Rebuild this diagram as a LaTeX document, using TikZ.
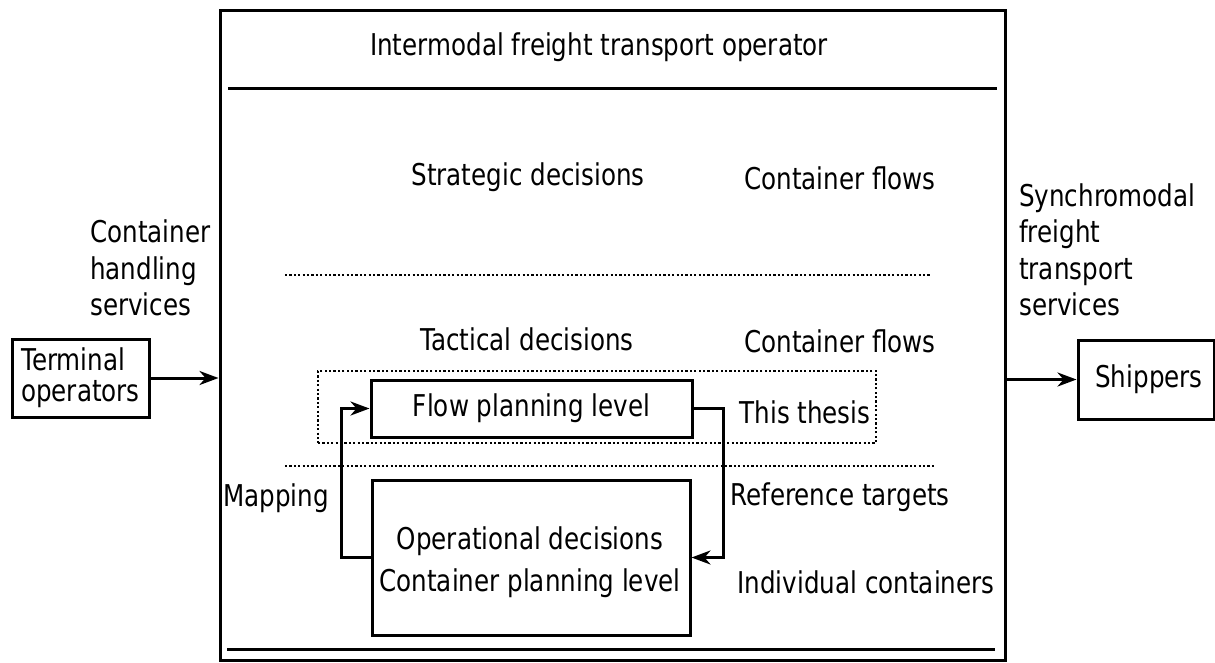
\documentclass[tikz,border=0pt]{standalone}
\usepackage{fontspec}
\setmainfont{DejaVu Sans}[FakeStretch=0.82]
\usetikzlibrary{arrows.meta}
\begin{document}
\begin{tikzpicture}[x=1pt,y=-1pt,
  every node/.style={font=\fontsize{30}{36.5}\selectfont},
  lbl/.style={inner sep=0pt},
  box/.style={draw,line width=3pt,inner sep=0pt},
  conn/.style={line width=3pt,-{Stealth[length=19pt,width=14pt,inset=6pt]}},
  dotline/.style={line width=2.6pt,dash pattern=on 2.2pt off 2.2pt}]
\useasboundingbox (0,0) rectangle (1215,662);
% main operator box
\node[box,minimum width=785pt,minimum height=650pt] (main) at (612.5,335) {};
\draw[line width=3pt] (228,88) -- (997,88);
\draw[line width=3pt] (227,649) -- (995,649);
\node[lbl] (title) at (599,47) {Intermodal freight transport operator};
\node[lbl] (strat) at (528,177) {Strategic decisions};
\node[lbl] (cf1) at (840,178) {Container flows};
\draw[dotline] (285,275) -- (930,275);
\node[lbl] (tact) at (527,339) {Tactical decisions};
\node[lbl] (cf2) at (840,341) {Container flows};
% this thesis region
\node[draw,dotline,minimum width=558pt,minimum height=72pt,inner sep=0pt] (thesis) at (597,407) {};
\node[box,minimum width=321pt,minimum height=57pt] (flow) at (531.5,408.5) {Flow planning level};
\node[lbl] (tt) at (805,412) {This thesis};
\draw[dotline] (285,466) -- (935,466);
\node[box,minimum width=318pt,minimum height=155pt] (ops) at (531,557.5) {};
\node[lbl,align=center] (opstext) at (530,562) {Operational decisions\\[5pt]Container planning level};
\node[lbl] (map) at (276,498) {Mapping};
\node[lbl] (ref) at (840,497) {Reference targets};
\node[lbl] (ind) at (866,582) {Individual containers};
\draw[conn] (ops.west) -- ++(-29,0) |- (flow.west);
\draw[conn] (flow.east) -- ++(30,0) |- (ops.east);
% left side
\node[box,minimum width=137pt,minimum height=78pt,align=left,
      font=\fontsize{30}{31}\selectfont] (term) at (80.5,378) {Terminal\\operators};
\node[lbl,anchor=west,align=left] (chs) at (90,268) {Container\\handling\\services};
\draw[conn] (term.east) -- (main.west |- term.east);
% right side
\node[box,minimum width=136pt,minimum height=79pt] (ship) at (1146,379.5) {};
\node[lbl] (shiptext) at (1149,379) {Shippers};
\node[lbl,anchor=west,align=left] (sfts) at (1019,250) {Synchromodal\\freight\\transport\\services};
\draw[conn] (main.east |- ship.west) -- (ship.west);
\end{tikzpicture}
\end{document}
